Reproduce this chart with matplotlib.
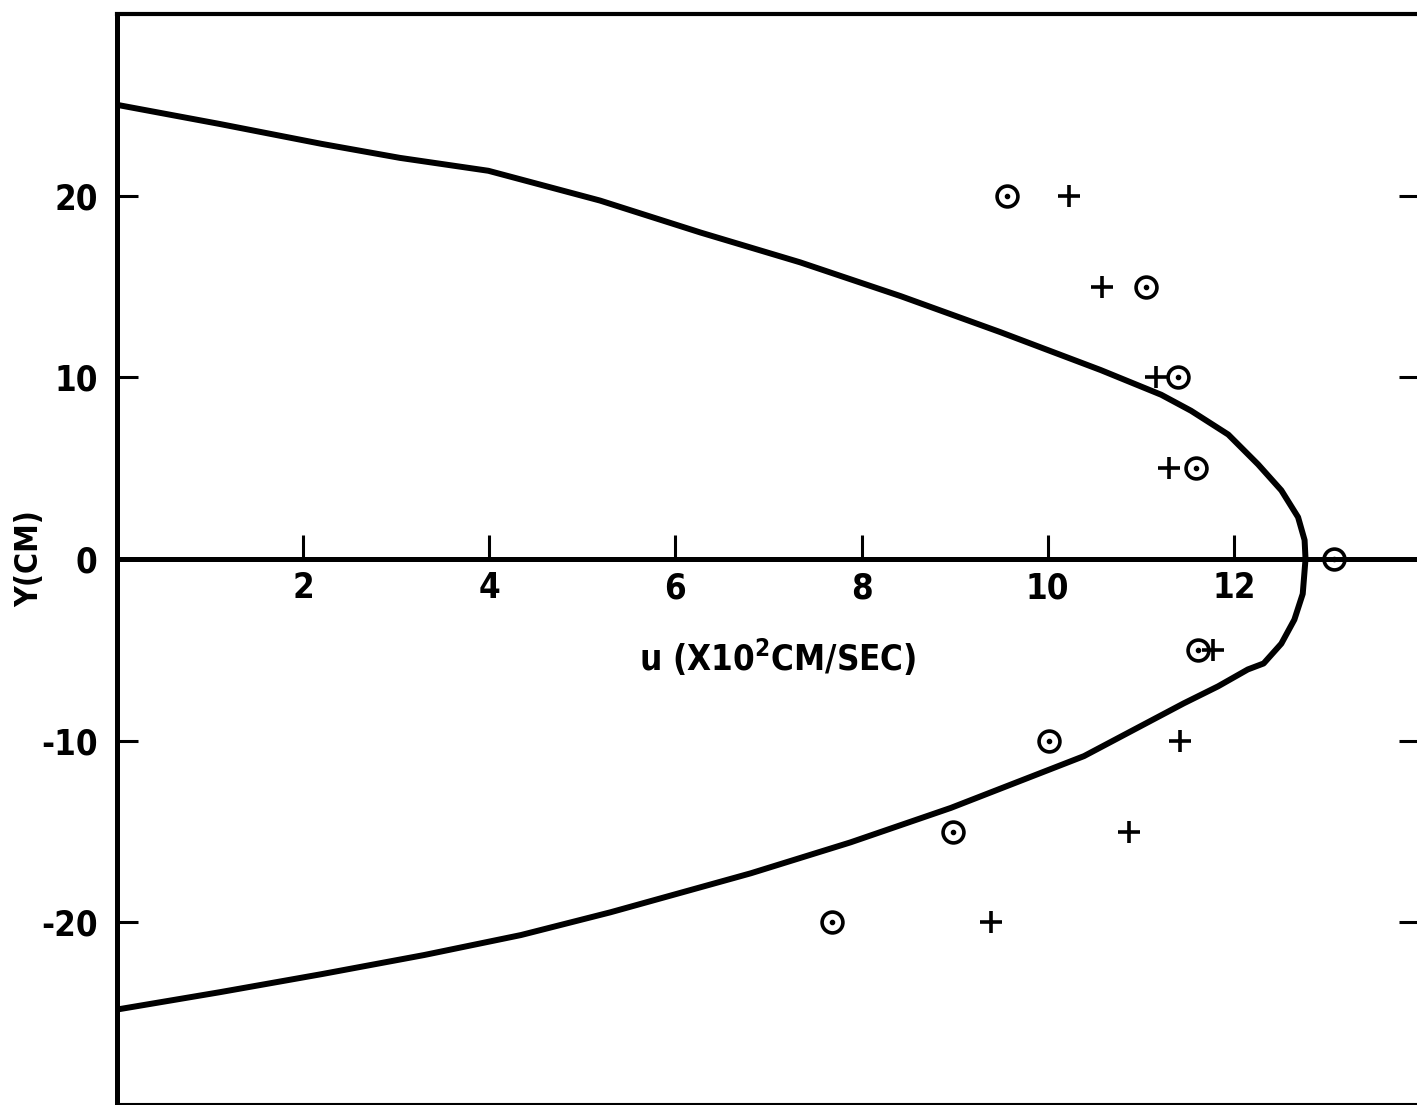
import numpy as np
import matplotlib
matplotlib.use("Agg")
import matplotlib.pyplot as plt
from matplotlib.lines import Line2D

# velocity profile across the channel (u in 10^2 cm/sec, Y in cm)
profile_u = [0.0, 1.1, 2.2, 3.04, 3.99, 5.19, 6.27, 7.34, 8.42, 9.49, 10.57, 11.22,
             11.54, 11.94, 12.26, 12.51, 12.69, 12.76, 12.77,
             12.74, 12.65, 12.51, 12.32, 12.15, 11.83, 11.46, 10.39, 8.96, 7.88, 6.81,
             5.3, 4.34, 3.3, 2.2, 1.1, 0.0]
profile_y = [25.0, 23.95, 22.85, 22.08, 21.37, 19.73, 17.97, 16.33, 14.47, 12.49, 10.4, 9.04,
             8.16, 6.85, 5.21, 3.78, 2.30, 1.04, 0.0,
             -1.92, -3.34, -4.66, -5.75, -6.08, -7.01, -7.95, -10.85, -13.7, -15.6, -17.3,
             -19.45, -20.7, -21.8, -22.85, -23.85, -24.8]

# measured points, two runs
circle_u = [9.56, 11.06, 11.40, 11.59, 13.08, 11.61, 10.01, 8.98, 7.68]
circle_y = [20, 15, 10, 5, 0, -5, -10, -15, -20]
plus_u = [10.23, 10.58, 11.16, 11.30, 11.78, 11.42, 10.87, 9.39]
plus_y = [20, 15, 10, 5, -5, -10, -15, -20]

x_ticks = [2, 4, 6, 8, 10, 12]
y_ticks = [-20, -10, 0, 10, 20]

plt.rcParams['font.family'] = ['DejaVu Sans']
plt.rcParams['font.stretch'] = 'condensed'
plt.rcParams['font.weight'] = 'bold'
plt.rcParams['mathtext.fontset'] = 'custom'
plt.rcParams['mathtext.rm'] = 'DejaVu Sans:bold'
plt.rcParams['mathtext.bf'] = 'DejaVu Sans:bold'

W, H = 1417, 1105
fig = plt.figure(figsize=(W / 100, H / 100), dpi=100)
ax = fig.add_axes([117 / W, 1 / H, (1420 - 117) / W, 1090 / H])

ax.plot(profile_u, profile_y, color='black', lw=4.3, solid_joinstyle='round',
        solid_capstyle='round', zorder=3)

ax.plot(circle_u, circle_y, ls='none', marker='o', ms=15, mfc='none', mec='black',
        mew=2.6, zorder=4)
ax.plot(circle_u, circle_y, ls='none', marker='o', ms=3.0, color='black', zorder=2)
ax.plot(plus_u, plus_y, ls='none', marker='+', ms=16, mec='black', mew=2.6, zorder=4)

ax.set_xlim(0, 14)
ax.set_ylim(-30, 30)

# u axis drawn along Y = 0, plot frame around it
ax.spines['bottom'].set_position(('data', 0))
ax.spines['bottom'].set_linewidth(3.6)
ax.spines['left'].set_linewidth(3.6)
ax.spines['top'].set_linewidth(3.0)
ax.spines['right'].set_visible(False)
ax.add_line(Line2D([0, 1], [0, 0], transform=ax.transAxes, color='black', lw=1.5,
                   clip_on=False))

ax.set_xticks(x_ticks)
ax.set_xticklabels([str(t) for t in x_ticks])
ax.set_yticks(y_ticks)
ax.set_yticklabels([str(t) for t in y_ticks])
ax.tick_params(axis='x', direction='in', length=17, width=2.2, pad=9, labelsize=25)
ax.tick_params(axis='y', direction='in', length=15, width=2.2, pad=14, labelsize=25,
               right=True)

ax.set_ylabel('Y(CM)', fontsize=23, fontweight='bold')
ax.yaxis.set_label_coords(-0.055, 0.5)
ax.text(7.1, -5.4, 'u (X10$^{2}$CM/SEC)', fontsize=25, fontweight='bold',
        ha='center', va='center')

fig.savefig('out.png', dpi=100, facecolor='white')
